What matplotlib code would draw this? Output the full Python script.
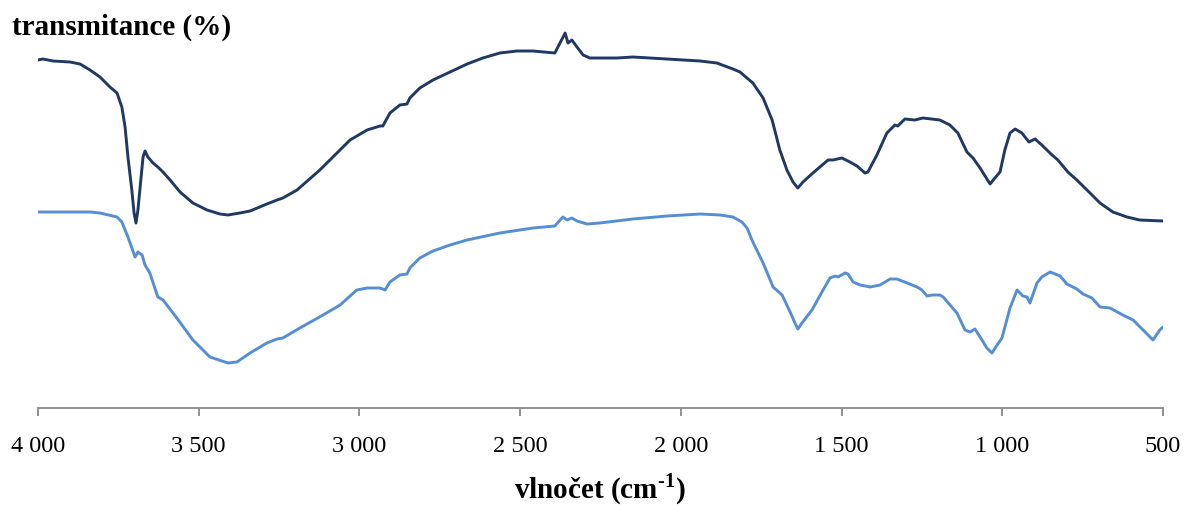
import numpy as np
import matplotlib.pyplot as plt
from matplotlib.ticker import FuncFormatter

plt.rcParams['font.family'] = ['Liberation Serif', 'DejaVu Serif']
plt.rcParams['mathtext.fontset'] = 'custom'
plt.rcParams['mathtext.rm'] = 'Liberation Serif:bold'
plt.rcParams['mathtext.bf'] = 'Liberation Serif:bold'

# upper spectrum (dark)
wn_dark = [4000, 3984, 3953, 3900, 3869, 3838, 3807, 3776, 3754, 3739, 3729, 3720, 3708, 3701,
           3695, 3689, 3680, 3673, 3667, 3658, 3642, 3627, 3611, 3589, 3558, 3518, 3474, 3434,
           3409, 3372, 3340, 3288, 3256, 3238, 3194, 3123, 3029, 2976, 2936, 2927, 2905, 2874,
           2852, 2843, 2812, 2771, 2718, 2665, 2616, 2563, 2510, 2460, 2392, 2376, 2360, 2351,
           2339, 2323, 2304, 2283, 2199, 2149, 2043, 1940, 1888, 1838, 1816, 1776, 1744, 1716,
           1692, 1670, 1651, 1636, 1620, 1589, 1542, 1527, 1499, 1474, 1452, 1427, 1418, 1390,
           1359, 1334, 1325, 1303, 1272, 1247, 1194, 1163, 1138, 1110, 1091, 1069, 1038, 1023,
           1007, 992, 976, 960, 939, 917, 898, 877, 845, 827, 796, 768, 727, 696, 656, 612,
           573, 500]
t_dark = [87, 87.25, 86.75, 86.5, 86, 84.5, 82.75, 80.25, 78.75, 75.25, 70.25, 62.75, 54.5, 48.75,
          46.25, 49.5, 57, 62.75, 64.25, 62.75, 61.25, 60.25, 59, 57, 54, 51.25, 49.5, 48.5,
          48.25, 48.75, 49.25, 51, 52, 52.5, 54.5, 59.5, 67, 69.5, 70.5, 70.5, 73.75, 75.75,
          76, 77.5, 80, 82, 84, 86, 87.5, 88.75, 89.25, 89.25, 88.75, 91.25, 93.75, 91.25,
          92, 90.25, 88.25, 87.5, 87.5, 87.75, 87.25, 86.75, 86.25, 84.75, 84, 81.25, 77.5, 72,
          64.5, 59.5, 56.5, 55, 56.5, 58.75, 62, 62, 62.5, 61.5, 60.5, 58.75, 59, 63.25,
          68.75, 70.75, 70.5, 72.25, 72, 72.5, 72, 70.75, 68.75, 64, 62.5, 60, 56, 57.5,
          59, 64.5, 68.75, 69.75, 68.75, 66.5, 67.25, 65.75, 63.25, 62, 59, 57, 53.75, 51.25, 49, 47.75,
          47, 46.75]

# lower spectrum (light)
wn_light = [4000, 3932, 3838, 3807, 3754, 3739, 3720, 3698, 3689, 3676, 3667, 3652, 3627, 3611,
            3568, 3518, 3465, 3409, 3381, 3340, 3288, 3256, 3238, 3185, 3113, 3060, 3008, 2976,
            2936, 2920, 2905, 2874, 2852, 2843, 2812, 2771, 2718, 2665, 2563, 2460, 2392, 2367,
            2354, 2339, 2323, 2292, 2252, 2149, 2043, 1940, 1878, 1838, 1810, 1794, 1776, 1744,
            1713, 1685, 1660, 1645, 1636, 1623, 1592, 1561, 1536, 1520, 1511, 1489, 1480, 1464,
            1442, 1411, 1380, 1349, 1328, 1296, 1265, 1250, 1234, 1216, 1194, 1184, 1141, 1116,
            1100, 1085, 1069, 1048, 1032, 1016, 1001, 976, 954, 936, 923, 914, 892, 877,
            851, 820, 799, 768, 749, 721, 696, 665, 625, 593, 562, 531, 510, 500]
t_light = [49, 49, 49, 48.75, 47.75, 46.5, 42.75, 37.75, 39, 38.25, 35.75, 33.75, 27.75, 27,
           22.5, 17, 12.75, 11.25, 11.5, 13.75, 16.25, 17.25, 17.5, 20, 23.25, 25.75, 29.5, 30,
           30, 29.5, 31.5, 33.25, 33.5, 35, 37.5, 39.25, 40.75, 42, 43.75, 45, 45.5, 47.75,
           47, 47.5, 46.75, 46, 46.25, 47.25, 48, 48.5, 48.25, 47.75, 46.5, 45, 41.5, 36.25,
           30.25, 28.25, 24, 21.25, 19.75, 21.25, 24.5, 29, 32.5, 33, 32.75, 33.75, 33.5, 31.5,
           30.75, 30.25, 30.75, 32.25, 32.25, 31.25, 30.25, 29.5, 28, 28.25, 28.25, 27.75, 23.75, 19.5,
           19, 19.75, 17.75, 15, 13.75, 15.75, 17.5, 25, 29.5, 28, 27.75, 26.25, 31.25, 32.75,
           34, 33, 31, 29.75, 28.5, 27.5, 25.25, 25, 23.25, 22, 19.5, 17, 19.5, 20.25]

xticks = [4000, 3500, 3000, 2500, 2000, 1500, 1000, 500]

fig = plt.figure(figsize=(11.86, 5.13), dpi=100)
ax = fig.add_axes([0.032, 0.2047, 0.9486, 0.7485])

ax.plot(wn_dark, t_dark, color='#1F3864', lw=2.1, solid_joinstyle='round', solid_capstyle='round')
ax.plot(wn_light, t_light, color='#558ED5', lw=2.1, solid_joinstyle='round', solid_capstyle='round')

ax.set_xlim(4000, 500)
ax.set_ylim(0, 96)
ax.set_xticks(xticks)
ax.xaxis.set_major_formatter(FuncFormatter(lambda v, p: f'{int(v):,}'.replace(',', ' ')))
ax.tick_params(axis='x', direction='out', length=6, width=1.3, color='#898989',
               labelsize=17.5, pad=14)
ax.set_yticks([])
for s in ['top', 'right', 'left']:
    ax.spines[s].set_visible(False)
ax.spines['bottom'].set_color('#898989')
ax.spines['bottom'].set_linewidth(1.3)

fig.text(0.010, 0.933, 'transmitance (%)', fontsize=21, fontweight='bold')
fig.text(0.506, 0.03, r'vlnočet (cm$^{\text{-1}}$)', fontsize=21, fontweight='bold', ha='center')

fig.savefig('out.png', dpi=100)
